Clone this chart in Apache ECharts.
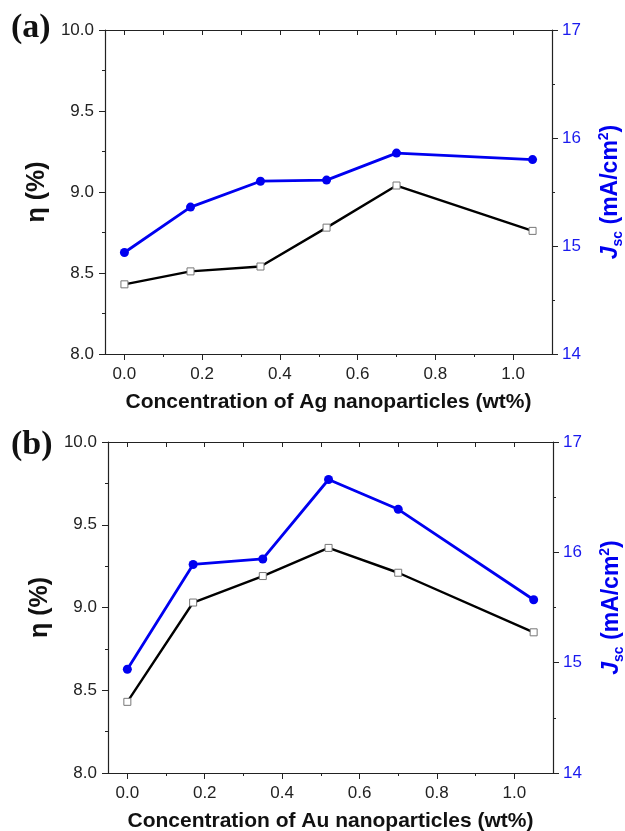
<!DOCTYPE html>
<html lang="en">
<head>
<meta charset="UTF-8">
<title>eta_jsc_Ag_Au</title>
<script src="https://cdn.jsdelivr.net/npm/echarts@6/dist/echarts.min.js"></script>
</head>
<body style="margin:0">
<div id="main" style="width:625px;height:831px;"></div>
<script>
// nanoparticle loading (wt%)
var conc = [0, 0.17, 0.35, 0.52, 0.70, 1.05];
// (a) Ag
var etaAg = [8.43, 8.51, 8.54, 8.78, 9.04, 8.76];
var jscAg = [14.94, 15.36, 15.60, 15.61, 15.86, 15.80];
// (b) Au
var etaAu = [8.43, 9.03, 9.19, 9.36, 9.21, 8.85];
var jscAu = [14.94, 15.89, 15.94, 16.66, 16.39, 15.57];

var xMajor = [0, 0.2, 0.4, 0.6, 0.8, 1.0];
var xMinor = [0.1, 0.3, 0.5, 0.7, 0.9];
var xTop = [0, 0.1, 0.2, 0.3, 0.4, 0.5, 0.6, 0.7, 0.8, 0.9, 1.0];

var BLUE = '#0000f0';
var INK = '#222';
var font = 'Liberation Sans';

function pairs(xs, ys) {
    return xs.map(function (x, i) { return [x, ys[i]]; });
}

function xMain(g, name) {
    return {
        type: 'value', gridIndex: g, position: 'bottom', min: -0.05, max: 1.1,
        name: name, nameLocation: 'middle', nameGap: 38,
        nameTextStyle: { fontFamily: font, fontWeight: 'bold', fontSize: 21, color: '#111' },
        axisLine: { onZero: false, lineStyle: { color: INK, width: 1.2 } },
        axisTick: { length: 6, customValues: xMajor, lineStyle: { color: INK } },
        axisLabel: { customValues: xMajor, margin: 12, fontFamily: font, fontSize: 17, color: INK,
            formatter: function (v) { return v.toFixed(1); } },
        splitLine: { show: false }
    };
}
// extra axes only for the small ticks / the top frame
function xTicks(g, pos, vals, len, inside) {
    return {
        type: 'value', gridIndex: g, position: pos, min: -0.05, max: 1.1,
        axisLine: { show: pos == 'top', onZero: false, lineStyle: { color: INK, width: 1.2 } },
        axisTick: { length: len, inside: inside, customValues: vals, lineStyle: { color: INK } },
        axisLabel: { show: false },
        splitLine: { show: false }
    };
}
function yEta(g) {
    return {
        type: 'value', gridIndex: g, position: 'left', min: 8, max: 10, interval: 0.5,
        name: 'η (%)', nameLocation: 'middle', nameRotate: 90, nameGap: 43,
        nameTextStyle: { fontFamily: font, fontWeight: 'bold', fontSize: 25, color: '#111' },
        axisLine: { show: true, onZero: false, lineStyle: { color: INK, width: 1.2 } },
        axisTick: { show: true, length: 6, lineStyle: { color: INK } },
        minorTick: { show: true, splitNumber: 2, length: 3, lineStyle: { color: INK } },
        axisLabel: { margin: 11, fontFamily: font, fontSize: 17, color: INK,
            formatter: function (v) { return v.toFixed(1); } },
        splitLine: { show: false }
    };
}
function yJsc(g) {
    return {
        type: 'value', gridIndex: g, position: 'right', min: 14, max: 17, interval: 1,
        name: '{j|J}{s|sc}{n| (mA/cm}{p|2}{n|)}', nameLocation: 'middle', nameRotate: 90, nameGap: 45,
        nameTextStyle: {
            rich: {
                j: { fontFamily: font, fontWeight: 'bold', fontStyle: 'italic', fontSize: 23, color: BLUE, lineHeight: 28 },
                n: { fontFamily: font, fontWeight: 'bold', fontSize: 23, color: BLUE, lineHeight: 28 },
                s: { fontFamily: font, fontWeight: 'bold', fontSize: 14, color: BLUE, lineHeight: 14, verticalAlign: 'bottom' },
                p: { fontFamily: font, fontWeight: 'bold', fontSize: 14, color: BLUE, lineHeight: 14, verticalAlign: 'top' }
            }
        },
        axisLine: { show: true, onZero: false, lineStyle: { color: INK, width: 1.2 } },
        axisTick: { show: true, length: 6, lineStyle: { color: INK } },
        minorTick: { show: true, splitNumber: 2, length: 3, lineStyle: { color: INK } },
        axisLabel: { margin: 10, fontFamily: font, fontSize: 17, color: '#1a1aee' },
        splitLine: { show: false }
    };
}
function etaLine(xi, yi, ys) {
    return {
        type: 'line', xAxisIndex: xi, yAxisIndex: yi, data: pairs(conc, ys),
        symbol: 'rect', symbolSize: 7, z: 3,
        lineStyle: { color: '#000', width: 2.4 },
        itemStyle: { color: '#fff', borderColor: '#777', borderWidth: 1 }
    };
}
function jscLine(xi, yi, ys) {
    return {
        type: 'line', xAxisIndex: xi, yAxisIndex: yi, data: pairs(conc, ys),
        symbol: 'circle', symbolSize: 9, z: 4,
        lineStyle: { color: BLUE, width: 2.8 },
        itemStyle: { color: BLUE }
    };
}

var chart = echarts.init(document.getElementById('main'), null, { renderer: 'canvas' });
chart.setOption({
    animation: false,
    backgroundColor: '#fff',
    title: [
        { text: '(a)', left: 11, top: 11, padding: 0,
          textStyle: { fontFamily: 'Liberation Serif', fontWeight: 'bold', fontSize: 34, color: '#111' } },
        { text: '(b)', left: 11, top: 428, padding: 0,
          textStyle: { fontFamily: 'Liberation Serif', fontWeight: 'bold', fontSize: 34, color: '#111' } }
    ],
    grid: [
        { left: 105, right: 73, top: 30, height: 324, containLabel: false, outerBoundsMode: 'none' },
        { left: 108, right: 72, top: 442, height: 331, containLabel: false, outerBoundsMode: 'none' }
    ],
    xAxis: [
        xMain(0, 'Concentration of Ag nanoparticles (wt%)'),
        xTicks(0, 'bottom', xMinor, 3, false),
        xTicks(0, 'top', xTop, 5, true),
        xMain(1, 'Concentration of Au nanoparticles (wt%)'),
        xTicks(1, 'bottom', xMinor, 3, false),
        xTicks(1, 'top', xTop, 5, true)
    ],
    yAxis: [yEta(0), yJsc(0), yEta(1), yJsc(1)],
    series: [
        etaLine(0, 0, etaAg),
        jscLine(0, 1, jscAg),
        etaLine(3, 2, etaAu),
        jscLine(3, 3, jscAu)
    ]
});
</script>
</body>
</html>
